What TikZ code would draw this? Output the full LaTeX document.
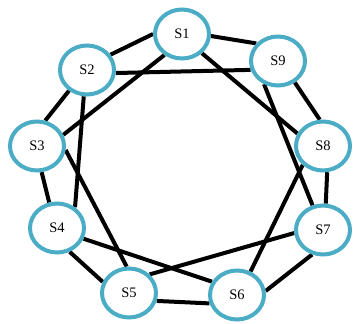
\documentclass[tikz,border=0pt]{standalone}
\usepackage{fontspec}
\setmainfont{Liberation Serif}
\usetikzlibrary{shapes.geometric,backgrounds}
\definecolor{ringblue}{RGB}{75,172,198}
\tikzset{
  station/.style={ellipse, draw=ringblue, line width=4pt, fill=white,
    minimum width=54pt, minimum height=49pt, inner sep=0pt, font=\fontsize{14.5}{14.5}\selectfont},
  link/.style={line width=4pt, black}
}
\begin{document}
\begin{tikzpicture}[x=1pt,y=1pt]
\useasboundingbox (0,0) rectangle (355,323);
% stations placed on a ring (y measured from the bottom)
\node[station] (s1) at (182,289) {S1};
\node[station] (s2) at (87,253) {S2};
\node[station] (s3) at (37,177) {S3};
\node[station] (s4) at (57,95) {S4};
\node[station] (s5) at (129,30) {S5};
\node[station] (s6) at (237,28) {S6};
\node[station] (s7) at (323,93) {S7};
\node[station] (s8) at (323,177) {S8};
\node[station] (s9) at (278,262) {S9};
% links drawn behind the stations
\begin{scope}[on background layer]
% outer ring
\draw[link] (s1.180) -- (s2.33);
\draw[link] (s2.229) -- (s3.72);
\draw[link] (s3.280) -- (s4.107);
\draw[link] (s4.298) -- (s5.157);
\draw[link] (s5.344) -- (s6.197);
\draw[link] (s6.8) -- (s7.246);
\draw[link] (s7.84) -- (s8.279);
\draw[link] (s8.97) -- (s9.308);
\draw[link] (s9.141) -- (s1.356);
% second-neighbour chords
\draw[link] (s1.230) -- (s3.23);
\draw[link] (s2.263) -- (s4.49);
\draw[link] (s3.352) -- (s5.95);
\draw[link] (s4.338) -- (s6.152);
\draw[link] (s5.42) -- (s7.186);
\draw[link] (s6.60) -- (s8.223);
\draw[link] (s7.113) -- (s9.239);
\draw[link] (s8.154) -- (s1.316);
\draw[link] (s9.198) -- (s2.354);
\end{scope}
\end{tikzpicture}
\end{document}
